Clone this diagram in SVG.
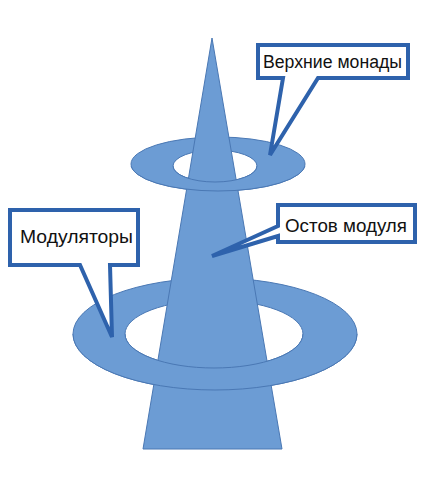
<svg xmlns="http://www.w3.org/2000/svg" width="429" height="491" viewBox="0 0 429 491">
<style>
.shape{fill:#6C9CD4;stroke:#4A78B4;stroke-width:1;fill-rule:evenodd}
.callout{fill:#FFFFFF;stroke:#2E62AC;stroke-width:4;stroke-linejoin:miter}
.lbl{font-family:"Liberation Sans",Arial,sans-serif;font-size:18px;fill:#111111}
</style>
<defs>
<clipPath id="frontUpper"><rect x="0" y="166" width="429" height="100"/></clipPath>
<clipPath id="frontLower"><rect x="0" y="334" width="429" height="120"/></clipPath>
<path id="ringUpper" d="M131,164 A87,27 0 1 0 305,164 A87,27 0 1 0 131,164 Z M173,166 A42,16 0 1 1 257,166 A42,16 0 1 1 173,166 Z"/>
<path id="ringLower" d="M73,334 A142,56 0 1 0 357,334 A142,56 0 1 0 73,334 Z M125,334 A89,34 0 1 1 303,334 A89,34 0 1 1 125,334 Z"/>
</defs>
<rect width="429" height="491" fill="#FFFFFF"/>
<g id="tower">
<use href="#ringLower" class="shape"/>
<use href="#ringUpper" class="shape"/>
<path id="spike" class="shape" d="M212,38 L282,449 L143,449 Z"/>
<g clip-path="url(#frontUpper)"><use href="#ringUpper" class="shape"/></g>
<g clip-path="url(#frontLower)"><use href="#ringLower" class="shape"/></g>
</g>
<g id="connectors"></g>
<g id="callout-upper">
<path class="callout" d="M258,45 H408 V78 H318 L270,155 L283,78 H258 Z"/>
<text class="lbl" x="263" y="68" textLength="139" lengthAdjust="spacingAndGlyphs">Верхние монады</text>
</g>
<g id="callout-modulators">
<path class="callout" d="M10,210 H138 V265 H110 L112,337 L80,265 H10 Z"/>
<text class="lbl" x="20" y="243" textLength="113" lengthAdjust="spacingAndGlyphs">Модуляторы</text>
</g>
<g id="callout-core">
<path class="callout" d="M278,205 H415 V242 H278 V236 L212,256 L278,226 Z"/>
<text class="lbl" x="285" y="232" textLength="122" lengthAdjust="spacingAndGlyphs">Остов модуля</text>
</g>
</svg>
